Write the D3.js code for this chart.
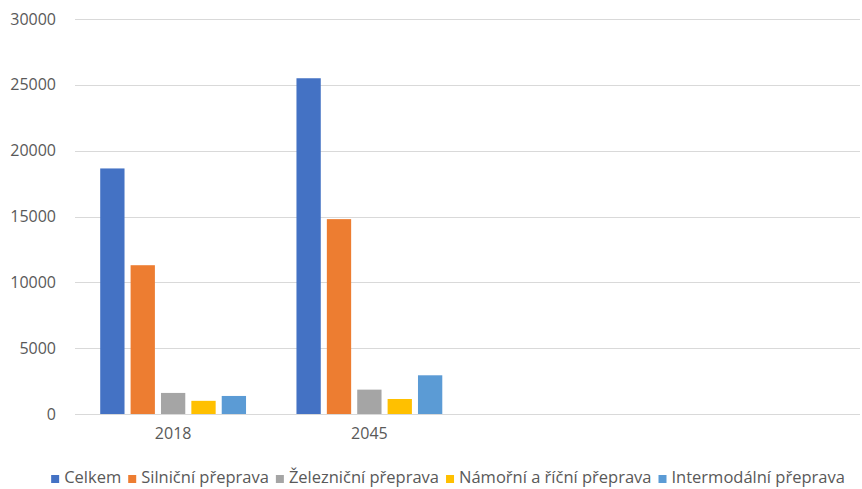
<!DOCTYPE html>
<html>
<head>
<meta charset="utf-8">
<script src="https://cdn.jsdelivr.net/npm/d3@7"></script>
<style>
  body { margin: 0; background: #fff; }
  text { font-family: "Open Sans", sans-serif; fill: #595959; }
</style>
</head>
<body>
<script>
// chart data
let categories = ["2018", "2045", "", ""];
let seriesNames = ["Celkem", "Silniční přeprava", "Železniční přeprava", "Námořní a říční přeprava", "Intermodální přeprava"];
let celkem = [18650, 25500];
let silnicni = [11300, 14800];
let zeleznicni = [1600, 1850];
let namorni = [1000, 1140];
let intermodalni = [1370, 2940];
let yTicks = [0, 5000, 10000, 15000, 20000, 25000, 30000];
let colors = ["#4472C4", "#ED7D31", "#A5A5A5", "#FFC000", "#5B9BD5"];

let seriesValues = [celkem, silnicni, zeleznicni, namorni, intermodalni];

let width = 862;
let height = 489;
let margin = {top: 19, right: 2, bottom: 75, left: 75};

let svg = d3.select("body").append("svg")
  .attr("width", width).attr("height", height);

let plotW = width - margin.left - margin.right;
let plotH = height - margin.top - margin.bottom;

let graph = svg.append("g")
  .attr("transform", "translate(" + margin.left + "," + margin.top + ")");

// scales
let x0 = d3.scaleBand().domain(d3.range(categories.length)).range([0, plotW]);
let x1 = d3.scaleBand().domain(seriesNames).range([0, x0.bandwidth()])
  .paddingInner(0.2).paddingOuter(0.83);
let yScale = d3.scaleLinear().domain([0, 30000]).range([plotH, 0]);

// gridlines
graph.selectAll("line.grid")
  .data(yTicks)
  .enter()
  .append("line")
    .attr("class", "grid")
    .attr("x1", 0).attr("x2", plotW)
    .attr("y1", function(d){ return Math.round(yScale(d)) + 0.5; })
    .attr("y2", function(d){ return Math.round(yScale(d)) + 0.5; })
    .style("stroke", "#d9d9d9")
    .style("stroke-width", 1);

// y axis labels
let yAxis = d3.axisLeft(yScale).tickValues(yTicks).tickFormat(d3.format("d"))
  .tickSize(0).tickPadding(19);
let yG = graph.append("g").call(yAxis);
yG.select(".domain").remove();
yG.selectAll("text").style("font-size", "16px").style("fill", "#595959")
  .style("font-family", "'Open Sans', sans-serif");

// bars
let groups = graph.selectAll("g.cat")
  .data(seriesNames)
  .enter()
  .append("g")
    .attr("class", "cat")
    .style("fill", function(d, i){ return colors[i]; });

groups.selectAll("rect")
  .data(function(d, i){
    return seriesValues[i].map(function(v, j){ return {series: d, cat: j, value: v}; });
  })
  .enter()
  .append("rect")
    .attr("x", function(d){ return x0(d.cat) + x1(d.series); })
    .attr("y", function(d){ return yScale(d.value); })
    .attr("width", x1.bandwidth())
    .attr("height", function(d){ return plotH - yScale(d.value); });

// x axis labels
let xAxis = d3.axisBottom(x0).tickFormat(function(d){ return categories[d]; })
  .tickSize(0).tickPadding(14);
let xG = graph.append("g")
  .attr("transform", "translate(0," + plotH + ")")
  .call(xAxis);
xG.select(".domain").remove();
xG.selectAll("text").style("font-size", "16px").style("fill", "#595959")
  .style("font-family", "'Open Sans', sans-serif");

// legend
let legend = svg.append("g");
let lx = 0;
seriesNames.forEach(function(name, i){
  let item = legend.append("g").attr("transform", "translate(" + lx + ",0)");
  item.append("rect")
    .attr("x", 0).attr("y", -2).attr("width", 8).attr("height", 8)
    .style("fill", colors[i]);
  let t = item.append("text")
    .attr("x", 13).attr("y", 0).attr("dy", "0.35em")
    .style("font-size", "16.5px")
    .text(name);
  lx += 13 + t.node().getComputedTextLength() + 7;
});
legend.attr("transform", "translate(" + (448 - (lx - 7) / 2) + ",477)");
</script>
</body>
</html>
